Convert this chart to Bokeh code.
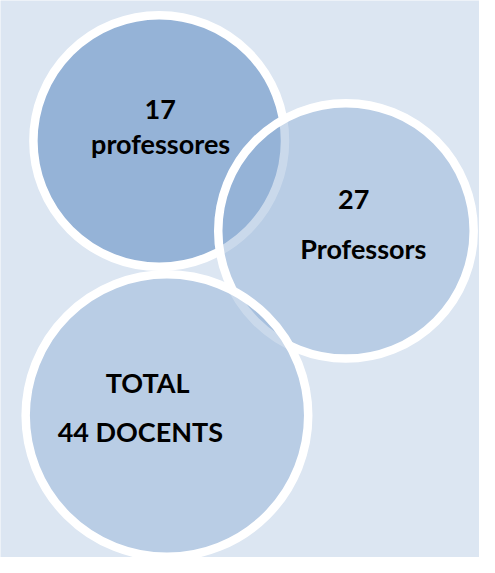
from bokeh.plotting import figure
from bokeh.models import ColumnDataSource
from bokeh.core.properties import value
from bokeh.embed import file_html
from bokeh.resources import INLINE

# data
counts = [17, 27, 44]
words = ["professores", "Professors", "DOCENTS"]

# layout (reference pixel coordinates)
cx = [164, 357, 172]
cy = [144.5, 237, 427]
rad = [130, 132, 146]
fills = ["#95B3D7", "#95B3D7", "#95B3D7"]
alphas = [1.0, 0.5, 0.5]

BG = "#DCE6F2"
p = figure(width=479, height=557, x_range=(0, 495), y_range=(573, 0),
           output_backend="svg", toolbar_location=None, min_border=0)
p.axis.visible = False
p.grid.visible = False
p.outline_line_color = None
p.background_fill_color = BG
p.border_fill_color = BG

for i in range(3):
    p.circle(x=[cx[i]], y=[cy[i]], radius=rad[i], fill_color=fills[i],
             fill_alpha=alphas[i], line_color="white", line_width=8.5, line_alpha=1.0)

labels = [str(counts[0]), words[0], str(counts[1]), words[1],
          "TOTAL", f"{counts[2]} {words[2]}"]
tx = [165, 165.5, 365, 375, 152, 144.5]
ty = [112, 147, 205, 255, 393, 443]
src = ColumnDataSource(dict(x=tx, y=ty, t=labels))
p.text(x="x", y="y", text="t", source=src, text_align="center",
       text_baseline="alphabetic", text_font=value("Lato"),
       text_font_style="bold", text_font_size="27px", text_color="black")

open("out.html", "w").write(file_html(p, INLINE))
